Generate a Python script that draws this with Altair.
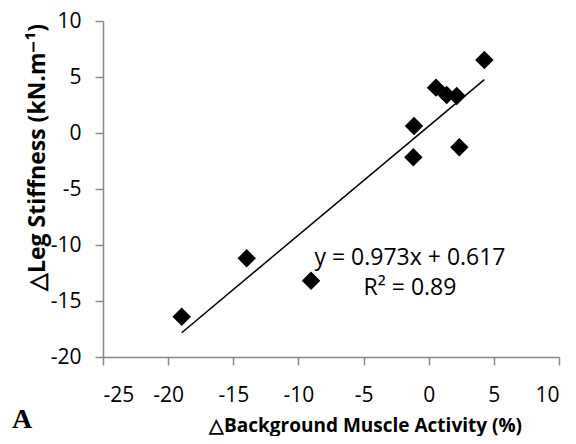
import altair as alt
import pandas as pd

# Data
bg_activity = [-18.96, -13.97, -9.03, -1.13, -1.18, 0.56, 1.38, 2.15, 2.35, 4.27]
leg_stiffness = [-16.4, -11.19, -13.19, 0.63, -2.17, 4.05, 3.39, 3.30, -1.28, 6.52]
x_ticks = [-25, -20, -15, -10, -5, 0, 5, 10]
y_ticks = [-20, -15, -10, -5, 0, 5, 10]
slope = 0.973
intercept = 0.617
eq_lines = ["y = 0.973x + 0.617", "R² = 0.89"]
panel_label = "A"

FONT = "Open Sans"
AXIS_GRAY = "#898989"
MINUS_FIX = "replace(datum.label, '\u2212', '-')"

pts = pd.DataFrame({"x": bg_activity, "y": leg_stiffness})
xmin, xmax = min(bg_activity), max(bg_activity)
fit = pd.DataFrame({"x": [xmin, xmax], "y": [slope * xmin + intercept, slope * xmax + intercept]})

xscale = alt.Scale(domain=[-25, 10], nice=False, zero=False)
yscale = alt.Scale(domain=[-20, 10], nice=False, zero=False)

xaxis = alt.Axis(
    values=x_ticks, grid=False, domainColor=AXIS_GRAY, tickColor=AXIS_GRAY,
    domainWidth=1.5, tickWidth=1.5, tickSize=8, labelExpr=MINUS_FIX,
    labelFont=FONT, labelFontSize=21, labelColor="black", labelPadding=19,
    title="△Background Muscle Activity (%)", titleFont=FONT, titleFontSize=19,
    titleFontWeight="bold", titleColor="black",
    titleX=262, titleY=74, titleBaseline="alphabetic", titleAlign="center",
)
yaxis = alt.Axis(
    values=y_ticks, grid=False, domainColor=AXIS_GRAY, tickColor=AXIS_GRAY,
    domainWidth=1.5, tickWidth=1.5, tickSize=8, labelExpr=MINUS_FIX,
    labelFont=FONT, labelFontSize=21, labelColor="black", labelPadding=14,
    title="△Leg Stiffness (kN.m⁻¹)", titleFont=FONT, titleFontSize=23,
    titleFontWeight="bold", titleColor="black",
    titleX=-66, titleY=136, titleAngle=-90, titleBaseline="middle", titleAlign="center",
)

points = alt.Chart(pts).mark_point(
    shape="diamond", filled=True, color="black", size=340, opacity=1
).encode(
    x=alt.X("x:Q", scale=xscale, axis=xaxis),
    y=alt.Y("y:Q", scale=yscale, axis=yaxis),
)

line = alt.Chart(fit).mark_line(color="black", strokeWidth=1.5).encode(
    x=alt.X("x:Q", scale=xscale), y=alt.Y("y:Q", scale=yscale)
)

eq_df = pd.DataFrame({"t": eq_lines, "py": [237, 267]})
eq = alt.Chart(eq_df).mark_text(
    font=FONT, fontSize=23, color="black", align="center", baseline="middle"
).encode(x=alt.value(307), y=alt.Y("py:Q", scale=None), text="t:N")

lab = alt.Chart(pd.DataFrame({"t": [panel_label]})).mark_text(
    font="Liberation Serif", fontSize=28, fontWeight="bold", color="black",
    align="left", baseline="alphabetic"
).encode(x=alt.value(-91), y=alt.value(407), text="t:N")

chart = alt.layer(line, points, eq, lab).properties(
    width=456, height=336,
    autosize=alt.AutoSizeParams(type="none"),
    padding={"left": 95, "top": 13, "right": 9, "bottom": 79},
).configure_view(stroke=None)

chart.save("out.html", embed_options={"renderer": "svg", "actions": False})
